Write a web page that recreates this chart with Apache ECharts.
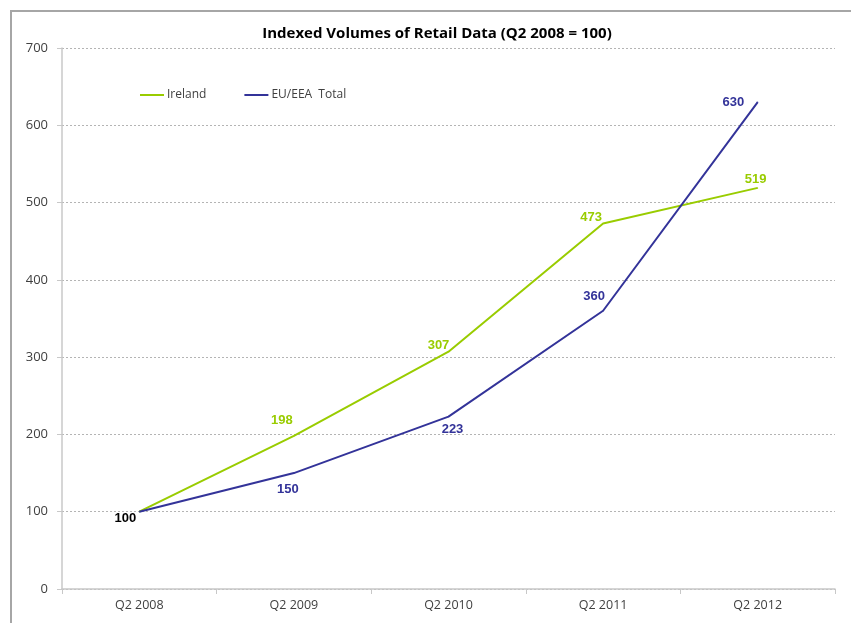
<!DOCTYPE html>
<html><head><meta charset="utf-8">
<script src="https://cdn.jsdelivr.net/npm/echarts@6/dist/echarts.min.js"></script>
<style>html,body{margin:0;padding:0;background:#fff}#c{width:851px;height:623px}</style>
</head><body><div id="c"></div>
<script>
const categories = ['Q2 2008','Q2 2009','Q2 2010','Q2 2011','Q2 2012'];
const ireland = [100,198,307,473,519];
const euTotal = [100,150,223,360,630];
const yTicks = [0,100,200,300,400,500,600,700];

const green = '#99cc00';
const blue = '#333399';
const lblFont = {fontFamily:'Liberation Sans, Arial, sans-serif', fontWeight:'bold', fontSize:13};

const irelandLabels = [
  {show:false},
  {position:'top', offset:[-12,-4]},
  {position:'top', offset:[-10,6]},
  {position:'top', offset:[-12,6]},
  {position:'top', offset:[-2,4]}
];
const euLabels = [
  {position:'bottom', offset:[-14,-5], color:'#000'},
  {position:'bottom', offset:[-6,4]},
  {position:'bottom', offset:[4,1]},
  {position:'top', offset:[-9,-2]},
  {position:'left', offset:[-8,0]}
];

const chart = echarts.init(document.getElementById('c'));
chart.setOption({
  animation:false,
  backgroundColor:'#fff',
  graphic:[{type:'rect', shape:{x:11,y:11,width:1000,height:800}, style:{fill:'none', stroke:'#a6a6a6', lineWidth:2}, silent:true}],
  title:{text:'Indexed Volumes of Retail Data (Q2 2008 = 100)', left:432, top:21, textAlign:'center',
    textStyle:{fontFamily:'Open Sans, Liberation Sans, sans-serif', fontWeight:'bold', fontSize:15, color:'#000'}},
  legend:{left:135, top:84, itemGap:38, itemWidth:24, itemHeight:2, icon:'rect',
    textStyle:{fontFamily:'Open Sans, Liberation Sans, sans-serif', fontSize:12, color:'#404040', padding:[0,0,0,-2]},
    data:['Ireland','EU/EEA  Total']},
  grid:{left:62, right:16, top:48, bottom:34, containLabel:false},
  xAxis:{type:'category', data:categories, boundaryGap:true,
    axisLine:{lineStyle:{color:'#c8c8c8', width:1.5}},
    axisTick:{show:true, length:5, lineStyle:{color:'#c8c8c8'}},
    axisLabel:{color:'#404040', fontFamily:'Open Sans, Liberation Sans, sans-serif', fontSize:12.5, margin:10}},
  yAxis:{type:'value', min:0, max:700, interval:100,
    axisLine:{show:true, lineStyle:{color:'#c8c8c8', width:1.5}},
    axisTick:{show:true, length:5, lineStyle:{color:'#c8c8c8'}},
    splitLine:{lineStyle:{color:'#b4b4b4', type:[2,2], width:1}},
    axisLabel:{color:'#404040', fontFamily:'Open Sans, Liberation Sans, sans-serif', fontSize:13, margin:14,
      formatter:v=>yTicks.includes(v)?String(v):''}},
  series:[
    {name:'Ireland', type:'line', data:ireland.map((v,i)=>({value:v, label:irelandLabels[i]})),
      symbol:'circle', symbolSize:1, showSymbol:true, lineStyle:{color:green, width:2}, itemStyle:{color:green},
      label:Object.assign({show:true, color:green}, lblFont), z:3},
    {name:'EU/EEA  Total', type:'line', data:euTotal.map((v,i)=>({value:v, label:euLabels[i]})),
      symbol:'circle', symbolSize:1, showSymbol:true, lineStyle:{color:blue, width:2}, itemStyle:{color:blue},
      label:Object.assign({show:true, color:blue}, lblFont), z:4}
  ]
});
</script></body></html>
